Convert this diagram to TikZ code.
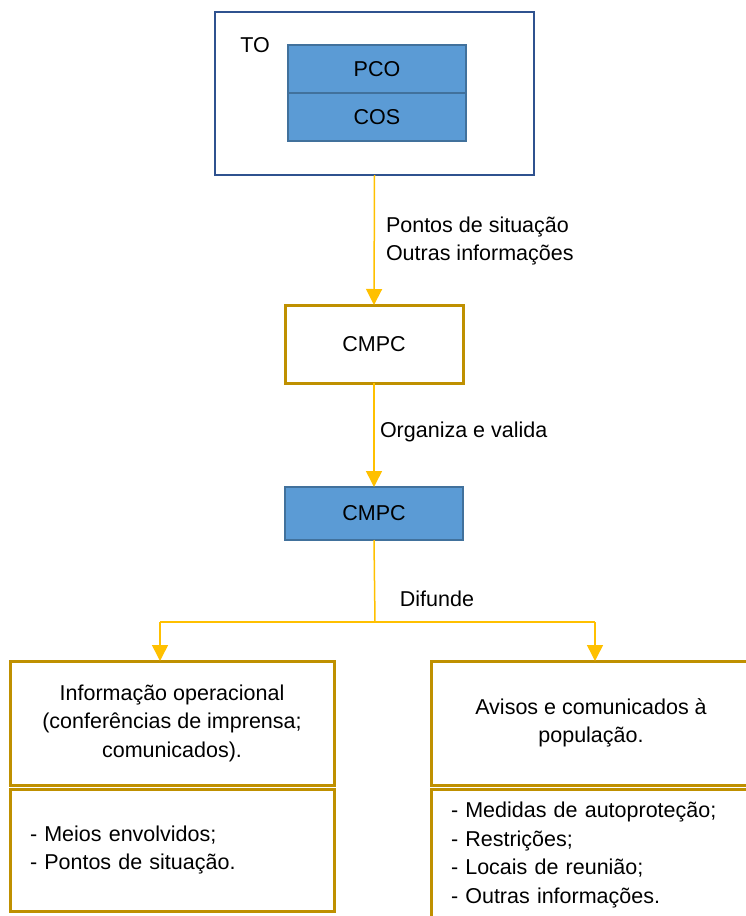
\documentclass[tikz,border=0pt]{standalone}
\usepackage{fontspec}
\setmainfont{Liberation Sans}
\usetikzlibrary{
    arrows.meta,
    positioning
}
\definecolor{toblue}{RGB}{47,82,143}
\definecolor{cellblue}{RGB}{91,155,213}
\definecolor{celledge}{RGB}{65,113,156}
\definecolor{boxgold}{RGB}{191,144,0}
\definecolor{flowgold}{RGB}{255,192,0}
\tikzset{
    every picture/.style = {
        x = 1pt,
        y = -1pt,
        node font = {\fontsize{21.5}{28.5}\selectfont}
    },
    every node/.style = {
        inner sep = 0pt,
        outer sep = 0pt,
        align = center
    },
    frame/.style = {
        draw = toblue,
        line width = 2.4pt,
        minimum width = 319pt,
        minimum height = 163pt
    },
    cell/.style = {
        draw = celledge,
        fill = cellblue,
        line width = 2pt,
        minimum width = 178pt
    },
    goldbox/.style = {
        draw = boxgold,
        line width = 3pt
    },
    listbox/.style = {
        goldbox,
        align = left,
        inner xsep = 20pt,
        text width = #1
    },
    flow/.style = {
        draw = flowgold,
        line width = 1.5pt
    },
    flowarrow/.style = {
        flow,
        -{Triangle[width = 16pt, length = 16pt]}
    }
}

\begin{document}
\begin{tikzpicture}
    \useasboundingbox (0,0) rectangle (745,916);

    % TO frame with PCO / COS
    \node[frame] (to) at (374.5,93.5) {};
    \node (tolabel) at (255,45) {TO};
    \node[cell, minimum height = 48pt] (pco) at (377,69) {PCO};
    \node[cell, minimum height = 48pt] (cos) [below = 0pt of pco] {COS};

    \node[goldbox, minimum width = 178pt, minimum height = 78pt] (cmpcA) at (374,344) {CMPC};
    \node[cell, minimum height = 53pt] (cmpcB) at (374,513.5) {CMPC};

    \path[flowarrow] (to.south) -- (cmpcA.north);
    \node[anchor = west, align = left] (pontos) at (386,241) {Pontos de situação\\Outras informações};

    \path[flowarrow] (cmpcA.south) -- (cmpcB.north);
    \node[anchor = west] (organiza) at (380,432) {Organiza e valida};

    % Difunde
    \coordinate (split) at (375,622);
    \coordinate (forkL) at (160,622);
    \coordinate (forkR) at (595,622);
    \node (difunde) at (437,599) {Difunde};

    \node[goldbox, minimum width = 324pt, minimum height = 124pt] (infoA) at (172,723)
        {Informação operacional\\(conferências de imprensa;\\comunicados).};
    \node[listbox = 284pt, minimum height = 122pt] (infoB) [below = 4pt of infoA]
        {- Meios envolvidos;\\- Pontos de situação.};

    \node[goldbox, minimum width = 320pt, minimum height = 124pt] (avisoA) at (591,723)
        {Avisos e comunicados à\\população.};
    \node[listbox = 280pt, minimum height = 132pt] (avisoB) [below = 4pt of avisoA]
        {- Medidas de autoproteção;\\- Restrições;\\- Locais de reunião;\\- Outras informações.};

    \path[flow] (cmpcB.south) -- (split);
    \path[flow] (forkL) -- (forkR);
    \path[flowarrow] (forkL) -- (forkL |- infoA.north);
    \path[flowarrow] (forkR) -- (forkR |- avisoA.north);
\end{tikzpicture}
\end{document}
